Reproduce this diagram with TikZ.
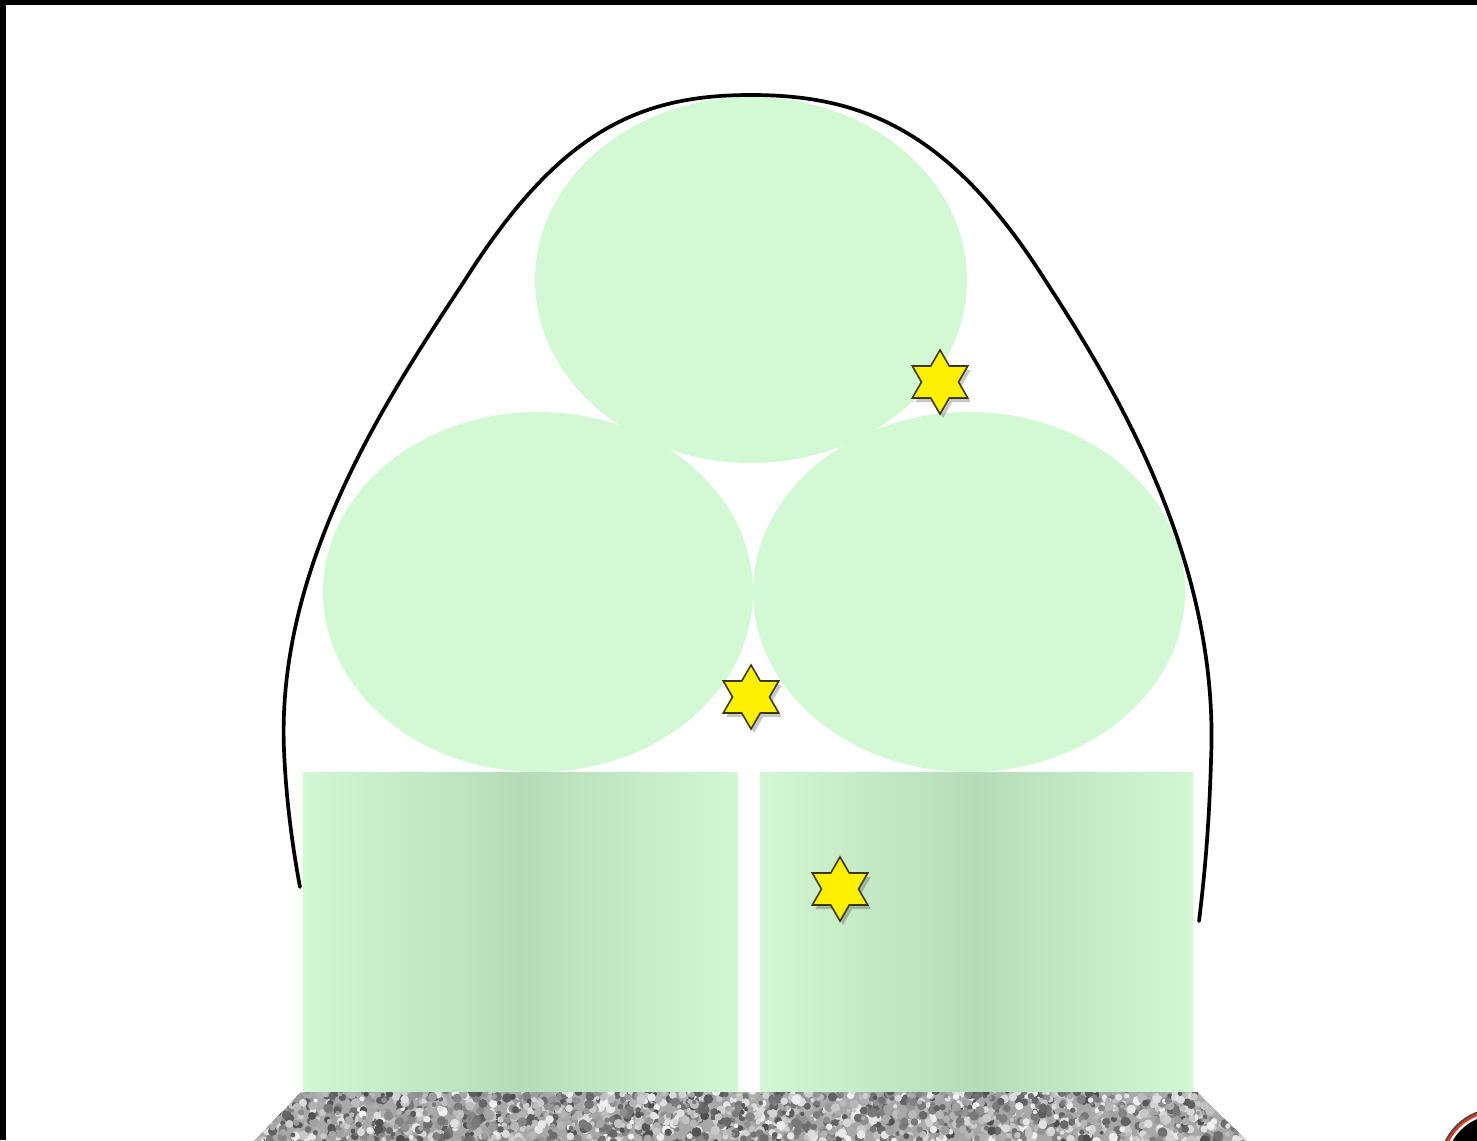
\documentclass[tikz,border=0pt]{standalone}
\usetikzlibrary{calc}
\definecolor{mint}{HTML}{D3F9D4}
\definecolor{boxedge}{HTML}{D2F7D2}
\definecolor{boxmid}{HTML}{B6DCB7}
\definecolor{starfill}{HTML}{FFF000}
\definecolor{starline}{HTML}{3A3A00}
\definecolor{granite}{HTML}{A8A8A8}
\definecolor{logored}{HTML}{E8391E}
\tikzset{
  blob/.style={fill=mint},
  box/.style={left color=boxedge,right color=boxedge,middle color=boxmid,shading angle=90},
  hull/.style={draw=black,line width=1.05pt,line cap=round},
  starshape/.style={fill=starfill,draw=starline,line width=0.45pt,line join=miter},
  starshadow/.style={fill=black,opacity=0.22},
}
\newcommand{\sixstarpath}[3]{% center x, center y, style
  \path[#3] ($(#1,#2)+(90:32)$)
  \foreach \k in {1,...,11}{
    -- ($(#1,#2)+({90+30*\k}:{mod(\k,2)==1 ? 18.5 : 32})$)
  } -- cycle;
}
\begin{document}
\begin{tikzpicture}[x=0.01cm,y=-0.01cm]
\useasboundingbox (0,0) rectangle (1477,1140);
\fill[white] (0,0) rectangle (1477,1140);
% frame bars
\fill[black] (0,0) rectangle (6,1140);
\fill[black] (0,0) rectangle (1477,5);
% green circles
\fill[blob] (751,280) ellipse [x radius=216,y radius=183];
\fill[blob] (538,592) ellipse [x radius=215,y radius=180];
\fill[blob] (969,592) ellipse [x radius=216,y radius=180];
% green blocks
\shade[box] (303,772) rectangle (738,1092);
\shade[box] (760,772) rectangle (1193,1092);
% granite base
\begin{scope}
  \clip (301,1092) -- (1197,1092) -- (1247,1141) -- (254,1141) -- cycle;
  \fill[granite] (250,1088) rectangle (1250,1142);
  \pgfmathsetseed{7}
  \foreach \i in {1,...,2200}{
    \pgfmathsetmacro{\rx}{250+rnd*1000}
    \pgfmathsetmacro{\ry}{1090+rnd*52}
    \pgfmathtruncatemacro{\gg}{5+rnd*65}
    \pgfmathsetmacro{\rr}{2+rnd*3}
    \fill[black!\gg!white] (\rx,\ry) circle [radius=\rr];
  }
\end{scope}
% black hull curve
\coordinate (hl) at (300,887);
\coordinate (hb) at (284,750);
\coordinate (hm) at (465,280);
\coordinate (ht) at (751,95);
\coordinate (hn) at (1045,280);
\coordinate (hc) at (1211,760);
\coordinate (hr) at (1199,921);
\draw[hull] (hl) .. controls (293,850) and (286,800) .. (hb)
  .. controls (276,560) and (394,388) .. (hm)
  .. controls (560,130) and (640,95) .. (ht)
  .. controls (862,95) and (950,130) .. (hn)
  .. controls (1114,386) and (1220,560) .. (hc)
  .. controls (1209,830) and (1204,880) .. (hr);
% stars
\foreach \cx/\cy in {940/382, 751/697, 840/889}{
  \sixstarpath{\cx+3}{\cy+4}{starshadow}
  \sixstarpath{\cx}{\cy}{starshape}
}
% logo fragment bottom right
\begin{scope}
  \clip (0,0) rectangle (1477,1140);
  \fill[black!70] (1497,1166) circle [radius=58];
  \fill[logored] (1497,1166) circle [radius=56];
  \fill[white] (1497,1166) circle [radius=53.5];
  \fill[black] (1497,1166) circle [radius=51];
\end{scope}
\end{tikzpicture}
\end{document}
